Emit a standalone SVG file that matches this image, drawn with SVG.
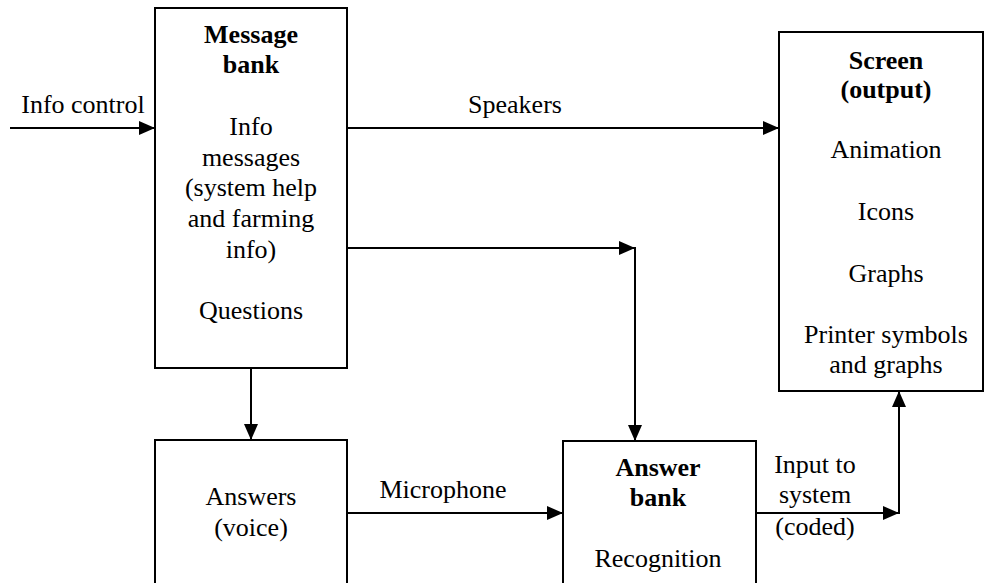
<svg xmlns="http://www.w3.org/2000/svg" width="985" height="583" viewBox="0 0 985 583" font-family="'Liberation Serif', 'Times New Roman', 'DejaVu Serif', serif">
<style>
.box{fill:#fff;stroke:#000;stroke-width:2}
.ln{fill:none;stroke:#000;stroke-width:2}
.t{font-family:'Liberation Serif','Times New Roman','DejaVu Serif',serif;font-size:26px;fill:#000;text-anchor:middle}
.b{font-weight:bold}
</style>
<defs>
<marker id="ah" viewBox="0 0 16 14" refX="16" refY="7" markerWidth="16" markerHeight="14" markerUnits="userSpaceOnUse" orient="auto">
<path d="M0,0 L16,7 L0,14 Z" fill="#000"/>
</marker>
</defs>
<rect width="985" height="583" fill="#fff"/>
<g id="message-bank">
<rect class="box" x="155" y="8" width="192" height="360"/>
<text class="t b" x="251" y="43">Message</text>
<text class="t b" x="251" y="73">bank</text>
<text class="t" x="251" y="135">Info</text>
<text class="t" x="251" y="166">messages</text>
<text class="t" x="251" y="196">(system help</text>
<text class="t" x="251" y="227">and farming</text>
<text class="t" x="251" y="258">info)</text>
<text class="t" x="251" y="319">Questions</text>
</g>
<g id="screen">
<rect class="box" x="779" y="32" width="204" height="359"/>
<text class="t b" x="886" y="69">Screen</text>
<text class="t b" x="886" y="98">(output)</text>
<text class="t" x="886" y="158">Animation</text>
<text class="t" x="886" y="220">Icons</text>
<text class="t" x="886" y="282">Graphs</text>
<text class="t" x="886" y="343">Printer symbols</text>
<text class="t" x="886" y="373">and graphs</text>
</g>
<g id="answers">
<rect class="box" x="155" y="440" width="192" height="160"/>
<text class="t" x="251" y="505">Answers</text>
<text class="t" x="251" y="536">(voice)</text>
</g>
<g id="answer-bank">
<rect class="box" x="563" y="441" width="193" height="160"/>
<text class="t b" x="658" y="476">Answer</text>
<text class="t b" x="658" y="506">bank</text>
<text class="t" x="658" y="567">Recognition</text>
</g>
<g id="connectors">
<line class="ln" x1="10" y1="128" x2="155" y2="128" marker-end="url(#ah)"/>
<text class="t" x="83" y="113">Info control</text>
<line class="ln" x1="347" y1="128" x2="779" y2="128" marker-end="url(#ah)"/>
<text class="t" x="515" y="113">Speakers</text>
<line class="ln" x1="347" y1="248" x2="635" y2="248" marker-end="url(#ah)"/>
<line class="ln" x1="635" y1="247" x2="635" y2="441" marker-end="url(#ah)"/>
<line class="ln" x1="251" y1="368" x2="251" y2="440" marker-end="url(#ah)"/>
<line class="ln" x1="347" y1="513" x2="563" y2="513" marker-end="url(#ah)"/>
<text class="t" x="443" y="498">Microphone</text>
<line class="ln" x1="756" y1="513" x2="899" y2="513" marker-end="url(#ah)"/>
<line class="ln" x1="899" y1="514" x2="899" y2="391" marker-end="url(#ah)"/>
<text class="t" x="815" y="473">Input to</text>
<text class="t" x="815" y="503">system</text>
<text class="t" x="815" y="535">(coded)</text>
</g>
</svg>
